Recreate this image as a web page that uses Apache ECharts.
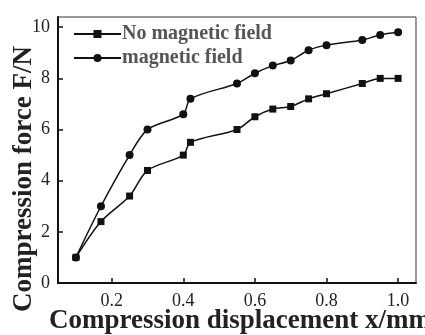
<!DOCTYPE html>
<html>
<head>
<meta charset="utf-8">
<script src="https://cdn.jsdelivr.net/npm/echarts@6/dist/echarts.min.js"></script>
<style>
html,body{margin:0;padding:0;background:#fff;}
#c{width:425px;height:335px;}
</style>
</head>
<body>
<div id="c"></div>
<script>
const xValues = [0.1, 0.17, 0.25, 0.3, 0.4, 0.42, 0.55, 0.6, 0.65, 0.7, 0.75, 0.8, 0.9, 0.95, 1.0];
const noFieldForce = [1.0, 2.4, 3.4, 4.4, 5.0, 5.5, 6.0, 6.5, 6.8, 6.9, 7.2, 7.4, 7.8, 8.0, 8.0];
const fieldForce = [1.0, 3.0, 5.0, 6.0, 6.6, 7.2, 7.8, 8.2, 8.5, 8.7, 9.1, 9.3, 9.5, 9.7, 9.8];
const xTicks = [0.2, 0.4, 0.6, 0.8, 1.0];
const yTicks = [0, 2, 4, 6, 8, 10];
const seriesNames = ['No magnetic field', 'magnetic field'];

const serif = '"Liberation Serif", "DejaVu Serif", serif';
const chart = echarts.init(document.getElementById('c'));
const pair = ys => xValues.map((x, i) => [x, ys[i]]);

chart.setOption({
  animation: false,
  backgroundColor: '#fff',
  grid: { left: 58, top: 17, right: 9, bottom: 52, containLabel: false, outerBoundsMode: 'none',
    show: true, borderColor: '#333', borderWidth: 1 },
  legend: {
    left: 73, top: 24, orient: 'vertical', padding: 0,
    itemWidth: 47, itemHeight: 10, itemGap: 4,
    textStyle: { fontFamily: serif, fontWeight: 'bold', fontSize: 20, color: '#555', padding: [0,0,0,-4] },
    data: seriesNames
  },
  xAxis: {
    type: 'value', min: 0.05, max: 1.05,
    name: 'Compression displacement x/mm', nameLocation: 'middle', nameGap: 25, nameMoveOverlap: false,
    nameTextStyle: { fontFamily: serif, fontWeight: 'bold', fontSize: 27, color: '#222', padding: [0,0,0,6] },
    axisLine: { lineStyle: { color: '#111', width: 2 } },
    axisTick: { inside: true, length: 5, customValues: xTicks, lineStyle: { color: '#111', width: 1.5 } },
    axisLabel: { customValues: xTicks, margin: 9, fontFamily: serif, fontSize: 18, color: '#222',
      formatter: v => v.toFixed(1) },
    splitLine: { show: false }
  },
  yAxis: {
    type: 'value', min: 0, max: 10.4,
    name: 'Compression force F/N', nameLocation: 'middle', nameGap: 20, nameMoveOverlap: false,
    nameTextStyle: { fontFamily: serif, fontWeight: 'bold', fontSize: 27, color: '#222', padding: [0,58,0,0] },
    axisLine: { show: true, lineStyle: { color: '#111', width: 2 } },
    axisTick: { show: true, inside: true, length: 5, customValues: yTicks, lineStyle: { color: '#111', width: 1.5 } },
    axisLabel: { customValues: yTicks, margin: 8, fontFamily: serif, fontSize: 18, color: '#222' },
    splitLine: { show: false }
  },
  series: [
    { name: seriesNames[0], type: 'line', data: pair(noFieldForce), smooth: 0.3,
      symbol: 'rect', symbolSize: 7, itemStyle: { color: '#111' }, lineStyle: { color: '#111', width: 1.5 } },
    { name: seriesNames[1], type: 'line', data: pair(fieldForce), smooth: 0.3,
      symbol: 'circle', symbolSize: 8, itemStyle: { color: '#111' }, lineStyle: { color: '#111', width: 1.5 } }
  ]
});
</script>
</body>
</html>
